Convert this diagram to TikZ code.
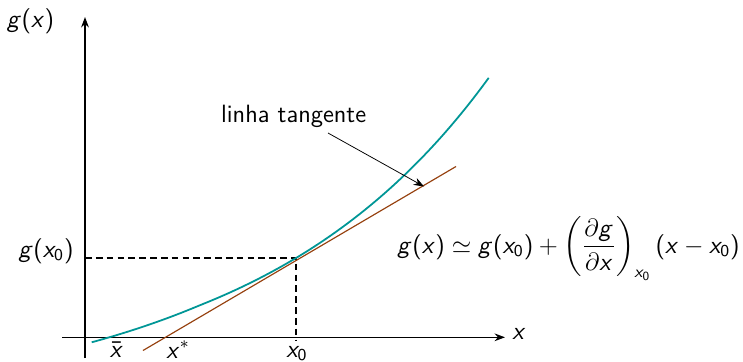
\documentclass[tikz,border=0pt]{standalone}
\usepackage{amsmath}
\usetikzlibrary{arrows.meta}
\SetSymbolFont{operators}{normal}{OT1}{cmss}{m}{n}
\DeclareSymbolFont{sfit}{OT1}{cmss}{m}{sl}
\DeclareMathSymbol{g}{\mathalpha}{sfit}{`g}
\DeclareMathSymbol{x}{\mathalpha}{sfit}{`x}
\definecolor{curveteal}{RGB}{0,150,150}
\definecolor{tanbrown}{RGB}{150,65,15}
\tikzset{
  lbl/.style={font=\large\sffamily, inner sep=0pt},
  axisline/.style={line width=0.6pt,-{Stealth[length=5pt,width=3.7pt]}},
  guide/.style={line width=0.6pt,dash pattern=on 3.2pt off 2pt},
  pointer/.style={line width=0.37pt,-{Stealth[length=5pt,width=3.7pt]}},
}
\begin{document}
\begin{tikzpicture}[x=0.48pt,y=-0.48pt]
\useasboundingbox (0,0) rectangle (743,361);
% axes
\coordinate (xs) at (62,337.3);
\coordinate (xe) at (505,337.3);
\coordinate (ys) at (85,358);
\coordinate (ye) at (85,17);
\draw[axisline] (xs) -- (xe);
\draw[axisline] (ys) -- (ye);
% guides
\coordinate (gy) at (85,258);
\coordinate (p0) at (296,258);
\coordinate (gx) at (296,341);
\draw[guide] (gy) -- (p0) -- (gx);
% curve
\draw[curveteal,line width=0.85pt] plot[domain=91.7:488.7,samples=80,smooth]
  (\x,{258-139.5*(exp(0.0043*(\x-296))-1)+(\x<200?(200-\x)*0.025:0)});
% tangent line
\coordinate (ta) at (143,350.5);
\coordinate (tb) at (456,166.5);
\draw[tanbrown,line width=0.56pt] (ta) -- (tb);
% labels
\node[lbl,anchor=base] (lgx) at (30.5,28) {$g(x)$};
\node[lbl,anchor=base east] (lgx0) at (74,257) {$g(x_0)$};
\node[lbl,anchor=base] (lxbar) at (116.5,357) {$\bar{x}$};
\node[lbl,anchor=base] (lxstar) at (178,358) {$x^*$};
\node[lbl,anchor=base] (lx0) at (297,357) {$x_0$};
\node[lbl,anchor=base] (lx) at (519,339) {$x$};
\node[lbl,anchor=base] (ltan) at (293.7,122) {linha tangente};
\node[lbl,anchor=base west] (form) at (397,253)
  {$g(x) \simeq g(x_0) + \left(\dfrac{\partial g}{\partial x}\right)_{x_0} (x - x_0)$};
% pointer
\coordinate (ps) at (328,133);
\coordinate (pe) at (424,186.5);
\draw[pointer] (ps) -- (pe);
\end{tikzpicture}
\end{document}
